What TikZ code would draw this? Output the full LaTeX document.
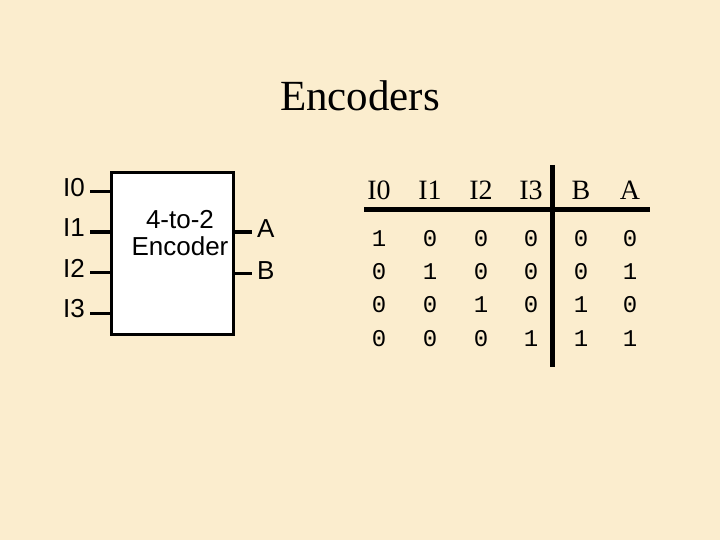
\documentclass[tikz,border=0pt]{standalone}
\usepackage{fontspec}
\setmainfont{Liberation Serif}
\setsansfont{Liberation Sans}
\setmonofont{Liberation Mono}
\usepackage{xcolor}
\usepackage{tikz}
\definecolor{parchment}{RGB}{251,237,206}

\begin{document}
\begin{tikzpicture}[x=1pt, y=-1pt,
  pin/.style={line width=3pt},
  rule/.style={line width=5pt},
  lbl/.style={font=\sffamily\fontsize{26}{27}\selectfont, inner sep=0pt},
  hdr/.style={font=\fontsize{28}{28}\selectfont, inner sep=0pt},
  bit/.style={font=\ttfamily\fontsize{24}{24}\selectfont, inner sep=0pt}]
\fill[parchment] (0,0) rectangle (720,540);
\useasboundingbox (0,0) rectangle (720,540);
\node[font=\fontsize{43}{43}\selectfont, inner sep=0pt] (title) at (360,96) {Encoders};
% encoder block
\draw[line width=3pt, fill=white] (111,173) rectangle (233,334);
\node[lbl, align=center] (enc) at (180,233) {4-to-2\\Encoder};
\foreach \i/\y in {0/192,1/232,2/272,3/313} {
  \coordinate (in\i) at (111,\y);
  \coordinate (s\i) at (90,\y);
  \draw[pin] (s\i) -- (in\i);
  \node[lbl, anchor=east] (I\i) at (85,\y-4) {I\i};
}
\coordinate (oA) at (233,232);
\coordinate (eA) at (252,232);
\coordinate (oB) at (233,273);
\coordinate (eB) at (252,273);
\draw[pin] (oA) -- (eA);
\draw[pin] (oB) -- (eB);
\node[lbl, anchor=west] (A) at (257,229) {A};
\node[lbl, anchor=west] (B) at (257,271) {B};
% truth table
\foreach \t/\x in {I0/379,I1/430,I2/481,I3/531,B/581,A/630}
  \node[hdr] (h\t) at (\x,190) {\t};
\coordinate (hl) at (364,210);
\coordinate (hr) at (650,210);
\coordinate (vt) at (552,165);
\coordinate (vb) at (552,367);
\draw[rule] (hl) -- (hr);
\draw[rule] (vt) -- (vb);
\foreach \r/\y/\row in {1/239/{1,0,0,0,0,0},2/272/{0,1,0,0,0,1},3/305/{0,0,1,0,1,0},4/339/{0,0,0,1,1,1}} {
  \foreach \v [count=\c] in \row {
    \pgfmathsetmacro{\xc}{{379,430,481,531,581,630}[\c-1]}
    \node[bit] (b\r\c) at (\xc,\y) {\v};
  }
}
\end{tikzpicture}
\end{document}
